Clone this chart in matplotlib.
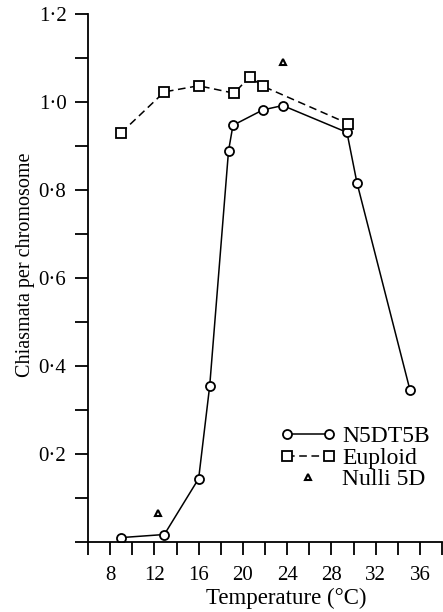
import numpy as np
import matplotlib
matplotlib.use("Agg")
import matplotlib.pyplot as plt
from matplotlib.ticker import MultipleLocator, FuncFormatter
from matplotlib.legend_handler import HandlerLine2D

plt.rcParams['font.family'] = ['Liberation Serif', 'DejaVu Serif']

# N5DT5B
temp_n5 = [9.0, 12.9, 16.0, 17.0, 18.7, 19.1, 21.8, 23.6, 29.4, 30.3, 35.1]
chi_n5 = [0.010, 0.017, 0.144, 0.355, 0.889, 0.947, 0.982, 0.992, 0.931, 0.817, 0.345]

# Euploid
temp_eu = [9.0, 12.9, 16.0, 19.2, 20.6, 21.8, 29.5]
chi_eu = [0.930, 1.023, 1.037, 1.020, 1.057, 1.036, 0.951]

# Nulli 5D
temp_nu = [12.3, 23.6]
chi_nu = [0.067, 1.091]

x_labels = [8, 12, 16, 20, 24, 28, 32, 36]
y_labels = [0.2, 0.4, 0.6, 0.8, 1.0, 1.2]

fig = plt.figure(figsize=(4.43, 6.12), dpi=100)
ax = fig.add_axes([0.1986, 0.1144, 0.7994, 0.8627])

ax.plot(temp_n5, chi_n5, '-', color='black', lw=1.1, marker='o', ms=6.5,
        mfc='white', mec='black', mew=1.3, label='N5DT5B')
ax.plot(temp_eu, chi_eu, color='black', lw=1.1, ls=(0, (5, 3)), marker='s', ms=7.5,
        mfc='white', mec='black', mew=1.3, label='Euploid')
tri, = ax.plot(temp_nu, chi_nu, ls='none', color='black', marker='^', ms=5,
               mfc='white', mec='black', mew=1.5, label='Nulli 5D')

ax.set_xlim(6, 38)
ax.set_ylim(0, 1.2)

ax.set_xticks(x_labels)
ax.xaxis.set_minor_locator(MultipleLocator(2))
ax.set_yticks(y_labels)
ax.yaxis.set_minor_locator(MultipleLocator(0.1))
ax.yaxis.set_major_formatter(FuncFormatter(lambda v, p: f"{v:.1f}".replace('.', '\u00b7')))

for s in ['top', 'right']:
    ax.spines[s].set_visible(False)
for s in ['left', 'bottom']:
    ax.spines[s].set_linewidth(1.3)

ax.tick_params(which='both', direction='out', length=9.5, width=1.3, labelsize=15)
ax.tick_params(axis='x', pad=7.5)
ax.tick_params(axis='y', pad=6)

ax.set_xlabel('Temperature (°C)', fontsize=16.5)
ax.xaxis.set_label_coords(0.56, -0.087)
ax.set_ylabel('Chiasmata per chromosome', fontsize=14.5)
ax.yaxis.set_label_coords(-0.15, 0.525)

ax.legend(loc='upper left', bbox_to_anchor=(0.515, 0.238), frameon=False, numpoints=2,
          fontsize=17, handlelength=2.4, handletextpad=0.25, labelspacing=0.0,
          borderaxespad=0, handler_map={tri: HandlerLine2D(numpoints=1)})

fig.savefig('out.png', dpi=100)
